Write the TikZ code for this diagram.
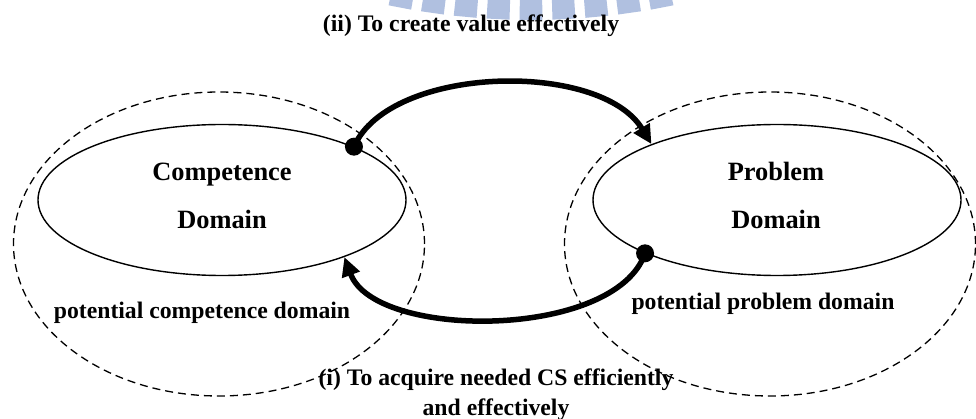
\documentclass[tikz,border=0pt]{standalone}
\usepackage{fontspec}
\setmainfont{Liberation Serif}
\usetikzlibrary{shapes.geometric,arrows.meta}
\definecolor{wm}{RGB}{176,192,224}
\begin{document}
\begin{tikzpicture}[x=1pt,y=-1pt,
  dom/.style={ellipse,draw,line width=1.4pt,inner sep=0pt,minimum width=368pt,minimum height=151pt},
  pot/.style={ellipse,draw,line width=1.3pt,dash pattern=on 8pt off 5pt,inner sep=0pt,minimum width=411pt,minimum height=304pt},
  big/.style={font=\fontsize{26.4}{30}\selectfont\bfseries,inner sep=0pt,anchor=base},
  lab/.style={font=\fontsize{23.7}{28}\selectfont\bfseries,inner sep=0pt,anchor=base},
  dotn/.style={circle,fill,inner sep=0pt,minimum size=18pt},
  conn/.style={line width=5.5pt,-{Triangle[length=19pt,width=18pt]}}]
\useasboundingbox (0,0) rectangle (976,419);
% watermark fragment
\begin{scope}
\clip (0,0) rectangle (976,419);
\foreach \k in {-4,...,4} {
  \pgfmathsetmacro{\a}{90+2.7*\k}
  \fill[wm] ({531+650*cos(\a-0.94)},{-680+650*sin(\a-0.94)}) --
            ({531+700*cos(\a-0.94)},{-680+700*sin(\a-0.94)}) --
            ({531+700*cos(\a+0.94)},{-680+700*sin(\a+0.94)}) --
            ({531+650*cos(\a+0.94)},{-680+650*sin(\a+0.94)}) -- cycle;
}
\end{scope}
% potential domains
\node[pot] (pl) at (219,244) {};
\node[pot] (pr) at (770,244) {};
% domains
\node[dom] (cl) at (222,200) {};
\node[dom] (cr) at (777,200) {};
\node[big] (c1) at (222,181) {Competence};
\node[big] (c2) at (222,229) {Domain};
\node[big] (p1) at (776,181) {Problem};
\node[big] (p2) at (776,229) {Domain};
\node[lab] (pcl) at (202,319) {potential competence domain};
\node[lab] (pcr) at (763,309) {potential problem domain};
\node[lab] (top) at (471,32) {(ii) To create value effectively};
\node[lab] (b1) at (496,385) {(i) To acquire needed CS efficiently};
\node[lab] (b2) at (496,415) {and effectively};
% dots and connectors
\node[dotn] (d1) at (cl.22.7) {};
\node[dotn] (d2) at (cr.202.3) {};
\draw[conn] (d1.center) .. controls (390,65) and (600,60) .. (cr.156.5);
\draw[conn] (d2.center) .. controls (615,340) and (375,340) .. (cl.335.8);
\end{tikzpicture}
\end{document}
